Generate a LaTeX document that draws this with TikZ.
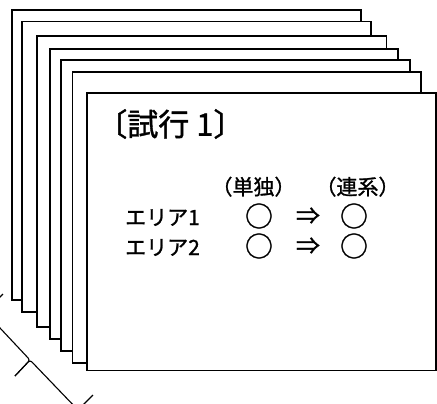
\documentclass[tikz,border=0pt]{standalone}
\usepackage{fontspec}
\newfontfamily\jp[FakeBold=1.2]{Noto Sans CJK JP}
\tikzset{
  sheet/.style={draw=black, fill=white, line width=1.8pt},
  bracketline/.style={draw=black, line width=1.1pt, rounded corners=2.5pt},
  headtxt/.style={inner sep=0pt, font=\jp\fontsize{31}{36}\selectfont},
  rowtxt/.style={inner sep=0pt, font=\jp\fontsize{21}{25}\selectfont},
  circtxt/.style={inner sep=0pt, font=\jp\fontsize{28}{32}\selectfont},
  arrtxt/.style={inner sep=0pt, font=\jp\fontsize{24}{28}\selectfont},
}
\begin{document}
\begin{tikzpicture}[x=1pt,y=-1pt]
\useasboundingbox (0,0) rectangle (437,404);
\clip (0,0) rectangle (437,404);
% stacked sheets, back to front
\draw[sheet] (12,10) rectangle (361,300);
\draw[sheet] (22,21.5) rectangle (371,312);
\draw[sheet] (37,36) rectangle (386.5,326.7);
\draw[sheet] (50,48.7) rectangle (398.3,339);
\draw[sheet] (61,60.3) rectangle (410,350.7);
\draw[sheet] (72.5,71.7) rectangle (421.3,362.7);
\draw[sheet] (87.3,93) rectangle (436,370.5);
% texts on the front sheet
\node[headtxt] (title) at (170.4,124) {〔試行 1〕};
\node[rowtxt] (h1) at (253.5,186.7) {（単独）};
\node[rowtxt] (h2) at (357.5,186.7) {（連系）};
\node[rowtxt, anchor=west] (r1) at (125,217.5) {エリア1};
\node[rowtxt, anchor=west] (r2) at (125,247.5) {エリア2};
\node[circtxt] (a1) at (259,216) {○};
\node[arrtxt] (b1) at (308,216) {⇒};
\node[circtxt] (c1) at (354,216) {○};
\node[circtxt] (a2) at (259,246) {○};
\node[arrtxt] (b2) at (308,246) {⇒};
\node[circtxt] (c2) at (354,246) {○};
% bracket at lower left
\coordinate (e1) at (3,294);
\coordinate (k1) at (-15,312);
\coordinate (m) at (30,360);
\coordinate (tip) at (15,376);
\coordinate (k2) at (78,410);
\coordinate (e2) at (93,395);
\draw[bracketline] (e1) -- (k1) -- (m) -- (tip);
\draw[bracketline] (tip) -- (m) -- (k2) -- (e2);
\end{tikzpicture}
\end{document}
